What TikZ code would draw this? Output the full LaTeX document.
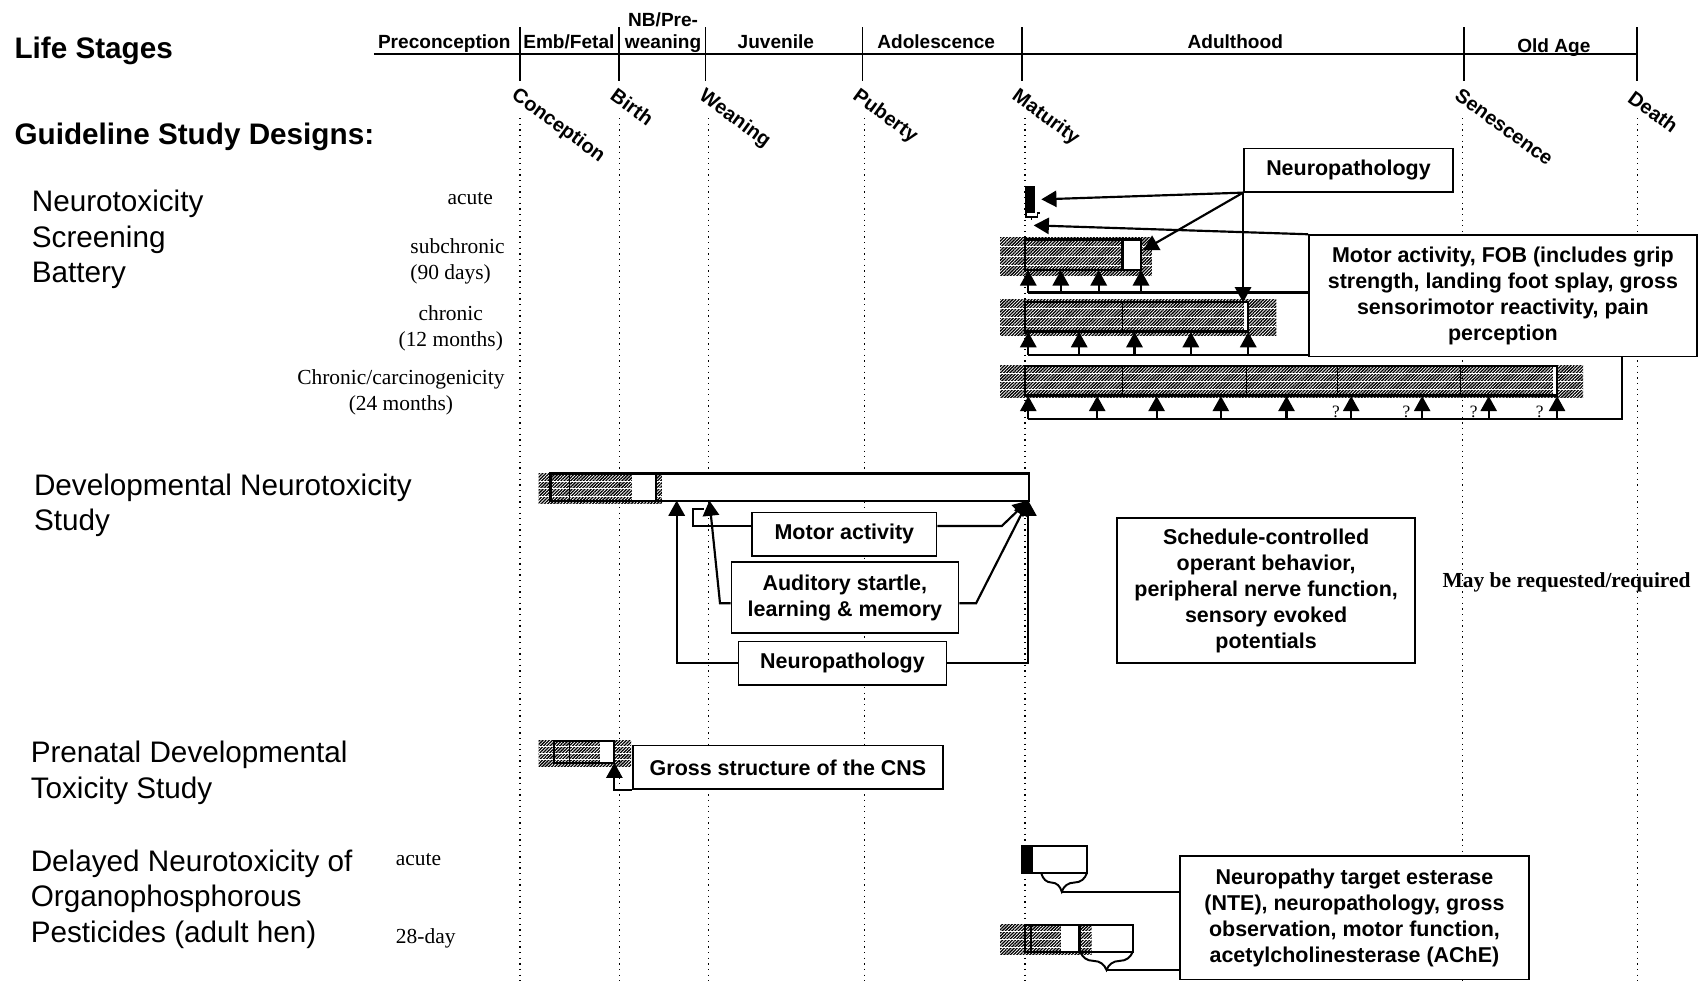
\documentclass[tikz,border=0pt]{standalone}
\usepackage{fontspec}
\setmainfont{Liberation Serif}
\setsansfont{Liberation Sans}
\usetikzlibrary{arrows.meta,patterns.meta,decorations.pathreplacing,calc}
\newcommand\hatchbox[4]{%
  \fill[pattern={Lines[angle=45,distance=1.05pt,line width=0.6pt]}] (#1,#2) rectangle (#3,#4);
  \foreach \f in {0.25,0.5,0.75} \draw[white, line width=0.35pt] (#1,{#2+\f*(#4-#2)}) -- (#3,{#2+\f*(#4-#2)});}
\begin{document}
\begin{tikzpicture}[x=0.5pt,y=-0.5pt,
  big/.style={font=\sffamily\fontsize{13.7}{16.5}\selectfont, anchor=base west, inner sep=0},
  bigb/.style={font=\sffamily\bfseries\fontsize{13.7}{16.5}\selectfont, anchor=base west, inner sep=0},
  tms/.style={font=\rmfamily\fontsize{9.9}{12}\selectfont, anchor=base, inner sep=0},
  tmsl/.style={font=\rmfamily\fontsize{9.9}{12}\selectfont, anchor=base west, inner sep=0},
  stage/.style={font=\sffamily\bfseries\fontsize{8.8}{10.5}\selectfont, anchor=base, inner sep=0},
  mile/.style={font=\sffamily\bfseries\fontsize{9.2}{11}\selectfont, anchor=north west, inner sep=0, rotate=-36},
  boxn/.style={draw, line width=0.8pt, fill=white, font=\sffamily\bfseries\fontsize{9.9}{12}\selectfont, align=center, inner sep=0},
  conn/.style={line width=1pt},
  arr/.style={line width=1pt, -{Triangle[length=7pt,width=7.5pt]}},
  barl/.style={line width=1pt},
  thinl/.style={line width=0.5pt},
  guide/.style={dotted, line width=0.6pt},
  qm/.style={font=\rmfamily\fontsize{8}{9}\selectfont, anchor=base, inner sep=0},
]
\useasboundingbox (0,0) rectangle (1568,908);

% guide lines
\foreach \x in {480,572,654,798,946,1350,1511} \draw[guide] (\x,109) -- (\x,908);

% timeline
\draw[line width=0.8pt] (345,50) -- (1512,50);
\foreach \x in {480,571,651,796,943,1351,1511} \draw[line width=0.8pt] (\x,25) -- (\x,75);
\node[stage] (sPre) at (410,45) {Preconception};
\node[stage] (sEmb) at (525,45) {Emb/Fetal};
\node[stage] (sNBa) at (612,24.5) {NB/Pre-};
\node[stage] (sNBb) at (612,45) {weaning};
\node[stage] (sJuv) at (716,45) {Juvenile};
\node[stage] (sAdo) at (864,45) {Adolescence};
\node[stage] (sAdu) at (1140,45) {Adulthood};
\node[stage] (sOld) at (1434,48) {Old Age};

\node[mile] (mCon) at (479,79) {Conception};
\node[mile] (mBir) at (570,80) {Birth};
\node[mile] (mWea) at (652,80) {Weaning};
\node[mile] (mPub) at (794,80) {Puberty};
\node[mile] (mMat) at (941,80) {Maturity};
\node[mile] (mSen) at (1349,80) {Senescence};
\node[mile] (mDea) at (1509,82) {Death};

% left titles
\node[bigb] (tLife) at (13,54) {Life Stages};
\node[bigb] (tGuide) at (13,133) {Guideline Study Designs:};
\node[big] (nsbA) at (29,195.4) {Neurotoxicity};
\node[big] (nsbB) at (29,228) {Screening};
\node[big] (nsbC) at (29,260.5) {Battery};
\node[big] (dntA) at (31,457.5) {Developmental Neurotoxicity};
\node[big] (dntB) at (31,490) {Study};
\node[big] (pdtA) at (28,703.5) {Prenatal Developmental};
\node[big] (pdtB) at (28,736.5) {Toxicity Study};
\node[big] (dnoA) at (28,804) {Delayed Neurotoxicity of};
\node[big] (dnoB) at (28,837) {Organophosphorous};
\node[big] (dnoC) at (28,870) {Pesticides (adult hen)};

% small times labels
\node[tms] (lAcute) at (434,188.3) {acute};
\node[tmsl] (lSubA) at (378.4,234.4) {subchronic};
\node[tmsl] (lSubB) at (378.4,258.4) {(90 days)};
\node[tms] (lChrA) at (416,296) {chronic};
\node[tms] (lChrB) at (416,320) {(12 months)};
\node[tms] (lCarA) at (370,354.5) {Chronic/carcinogenicity};
\node[tms] (lCarB) at (370,379) {(24 months)};
\node[tmsl] (lHenA) at (365,798.6) {acute};
\node[tmsl] (lHenB) at (365,870.8) {28-day};
\node[font=\rmfamily\bfseries\fontsize{9.9}{12}\selectfont, anchor=base west, inner sep=0] (mayReq) at (1331,542) {May be requested/required};

% ---- Screening battery bars
\fill (946,172) rectangle (955,197);
\draw[line width=0.7pt] (947,197) -- (947,200.5) -- (957.5,200.5) -- (957.5,196.5) -- (960,196.5);
\draw[line width=0.7pt] (952,200.5) -- (952,203.5);

\hatchbox{923}{219}{1063}{254}
\filldraw[fill=white, barl] (1036,221) rectangle (1053,249);
\draw[barl] (946,221) rectangle (1053,249);

\hatchbox{923}{276}{1178}{310}
\draw[barl] (946,279) rectangle (1152,306);
\draw[thinl] (1036,279) -- (1036,306);
\fill[white] (1148.5,280) rectangle (1151,305);

\hatchbox{923}{337}{1461}{367}
\draw[barl] (946,338) rectangle (1437,365);
\foreach \x in {1036,1150,1234,1348} \draw[thinl] (\x,338) -- (\x,365);
\fill[white] (1433,339) rectangle (1436,364);

% ---- DNT bar
\hatchbox{497}{437}{611}{465}
\fill[white] (583,437) rectangle (605.5,462);
\fill[white] (611,437) rectangle (950,462);
\draw[barl] (508,437) rectangle (950,462);
\draw[line width=0.6pt] (525.4,437) -- (525.4,462);
\draw[line width=1.2pt] (605.5,437) -- (605.5,462);

% ---- Prenatal bar
\hatchbox{497}{683}{582.4}{707}
\fill[white] (553.8,683.6) rectangle (567,704);
\draw[barl] (511.6,683.6) rectangle (567,704);
\draw[line width=0.6pt] (525.5,683.6) -- (525.5,704);

% ---- Hen bars
\filldraw[fill=white, barl] (943,781) rectangle (1003,806);
\fill (943,781) rectangle (953,806);
\hatchbox{923}{853}{1007.5}{881}
\fill[white] (979,853.7) rectangle (996.6,878.3);
\fill[white] (1007.5,853.7) rectangle (1045.4,878.3);
\draw[barl] (946,853.7) rectangle (1045.4,878.3);
\draw[line width=0.6pt] (951.6,853.7) -- (951.6,878.3);
\draw[line width=1.3pt] (996.6,853.7) -- (996.6,878.3);
\draw[line width=0.9pt, decorate, decoration={brace, mirror, amplitude=8.5pt, aspect=0.45}] (961,806) -- (1003,806);
\draw[line width=0.9pt, decorate, decoration={brace, mirror, amplitude=8.5pt, aspect=0.5}] (997,878.3) -- (1045.4,878.3);

% ---- boxes
\node[boxn, minimum width=96.5pt, minimum height=20pt] (npTop) at (1244.5,157) {Neuropathology};
\node[boxn, minimum width=179pt, minimum height=56pt] (fob) at (1387,273) {Motor activity, FOB (includes grip\\strength, landing foot splay, gross\\sensorimotor reactivity, pain\\perception};
\node[boxn, minimum width=85pt, minimum height=20pt] (motor) at (779.25,493) {Motor activity};
\node[boxn, minimum width=104.75pt, minimum height=32.5pt] (audit) at (779.75,551.5) {Auditory startle,\\learning \& memory};
\node[boxn, minimum width=96pt, minimum height=20pt] (npDev) at (777.5,612) {Neuropathology};
\node[boxn, minimum width=143.25pt, minimum height=20.25pt] (gross) at (727.25,708.25) {Gross structure of the CNS};
\node[boxn, minimum width=137.5pt, minimum height=67pt] (sched) at (1168.5,545) {Schedule-controlled\\operant behavior,\\peripheral nerve function,\\sensory evoked\\potentials};
\node[boxn, minimum width=161pt, minimum height=57pt] (nte) at (1250,847) {Neuropathy target esterase\\(NTE), neuropathology, gross\\observation, motor function,\\acetylcholinesterase (AChE)};

% ---- Screening connectors
\coordinate (acTip) at (961,184);
\coordinate (acBr) at (954,208);
\coordinate (subEnd) at (1055,231);
\coordinate (chTop) at (1150,279);
\draw[arr] (npTop.south west) -- (acTip);
\draw[arr] (npTop.south west) -- (subEnd);
\draw[arr] (npTop.south west) -- (npTop.south west |- chTop);
\draw[arr] (fob.north west) -- (acBr);

\coordinate (subL) at (949,270);
\draw[conn] (subL) -- (fob.west |- subL);
\foreach \x [count=\i] in {949,979,1014,1053} {
  \coordinate (sb\i) at (\x,270); \coordinate (st\i) at (\x,249.5);
  \draw[arr] (sb\i) -- (st\i);}

\coordinate (chL) at (949,328);
\draw[conn] (chL) -- (fob.west |- chL);
\foreach \x [count=\i] in {949,996,1047,1099,1152} {
  \coordinate (cb\i) at (\x,328); \coordinate (ct\i) at (\x,306.5);
  \draw[arr] (cb\i) -- (ct\i);}

\coordinate (carR) at (1497,387);
\coordinate (carL) at (949,387);
\draw[conn] (carR |- fob.south) -- (carR) -- (carL);
\foreach \x [count=\i] in {949,1012.6,1067.4,1126.7,1187.3,1247,1312.5,1373.9,1437} {
  \coordinate (kb\i) at (\x,387); \coordinate (kt\i) at (\x,365.5);
  \draw[arr] (kb\i) -- (kt\i);}
\node[qm] (qA) at (1233,385) {?};
\node[qm] (qB) at (1298,385) {?};
\node[qm] (qC) at (1360,385) {?};
\node[qm] (qD) at (1421,385) {?};

% ---- DNT connectors
\coordinate (dTipA) at (624.5,462);
\coordinate (dTipB) at (654.7,462);
\coordinate (dTipR) at (949,462);
\draw[arr] (npDev.west) -| (dTipA);
\draw[arr] (npDev.east) -| (dTipR);
\draw[conn] ($(motor.west)+(0,-7.5)$) -- (639.3,485.5) -- (639.3,470) -- (650,470);
\draw[arr] ($(motor.east)+(0,-7.5)$) -- (924.5,485.5) -- (dTipR);
\draw[arr] ($(audit.west)+(0,5.3)$) -- (664.5,556.8) -- (dTipB);
\draw[arr] ($(audit.east)+(0,5.3)$) -- (900.8,556.8) -- (dTipR);

% ---- Prenatal connector
\coordinate (pTip) at (567,704);
\draw[arr] (gross.south west) -| (pTip);

% ---- Hen connectors
\coordinate (hbA) at (980,823);
\coordinate (hbB) at (1021,895.3);
\draw[conn] (hbA) -- (hbA -| nte.west);
\draw[conn] (hbB) -- (hbB -| nte.west);
\end{tikzpicture}
\end{document}
